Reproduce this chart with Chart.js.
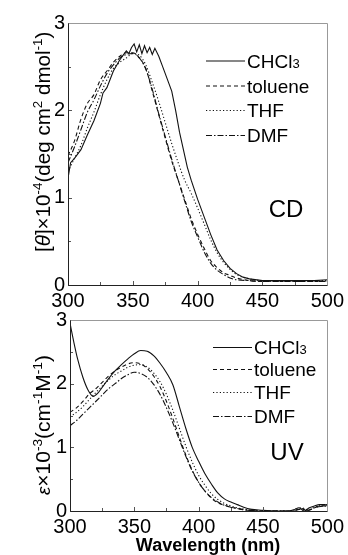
<!DOCTYPE html>
<html>
<head>
<meta charset="utf-8">
<script src="https://cdn.jsdelivr.net/npm/chart.js@4.4.0/dist/chart.umd.min.js"></script>
<style>
  html, body { margin: 0; padding: 0; background: #fff; }
  body { width: 348px; height: 555px; position: relative; overflow: hidden; }
  canvas { position: absolute; left: 0; }
  #cd { top: 0; }
  #uv { top: 305px; }
</style>
</head>
<body>
<canvas id="cd" width="348" height="312"></canvas>
<canvas id="uv" width="348" height="250"></canvas>
<script>
const FONT = "'Liberation Sans', Arial, sans-serif";

// CD panel ([theta] x 10^-4)
const cdChcl3Wl = [300,302,305,310,315,320,325,327,330,335,340,343,345,347,349,351,353,355,357,359,361,363,365,367,370,373,376,380,383,386,389,392,395,400,405,410,415,420,425,430,435,440,450,460,470,480,490,500];
const cdChcl3   = [1.22,1.40,1.45,1.55,1.72,1.88,2.08,2.20,2.26,2.45,2.58,2.64,2.68,2.65,2.72,2.76,2.67,2.75,2.65,2.74,2.66,2.72,2.64,2.71,2.62,2.50,2.38,2.22,2.00,1.75,1.55,1.35,1.20,0.98,0.78,0.58,0.40,0.28,0.19,0.13,0.09,0.07,0.05,0.05,0.05,0.05,0.05,0.06];
const cdWl      = [300,305,310,315,320,325,330,335,340,345,350,355,360,365,370,375,380,385,390,395,400,405,410,415,420,425,430,440,450,460,470,480,490,500];
const cdToluene = [1.48,1.65,1.90,2.08,2.18,2.35,2.45,2.55,2.62,2.66,2.66,2.60,2.48,2.22,1.95,1.68,1.42,1.20,0.98,0.76,0.58,0.42,0.28,0.20,0.14,0.11,0.08,0.05,0.04,0.04,0.04,0.04,0.04,0.04];
const cdThf     = [1.30,1.45,1.60,1.80,1.98,2.18,2.35,2.48,2.55,2.60,2.65,2.63,2.52,2.32,2.10,1.86,1.62,1.40,1.20,1.05,0.88,0.70,0.52,0.37,0.26,0.18,0.12,0.07,0.05,0.05,0.05,0.05,0.05,0.05];
const cdDmf     = [1.40,1.58,1.78,1.98,2.12,2.28,2.42,2.52,2.60,2.64,2.65,2.60,2.47,2.24,1.96,1.70,1.44,1.20,0.96,0.73,0.55,0.38,0.25,0.17,0.12,0.08,0.06,0.05,0.04,0.04,0.04,0.04,0.04,0.04];

// UV panel (epsilon x 10^-3)
const uvChcl3Wl = [300,303,306,310,314,318,322,326,330,335,340,345,350,355,360,365,370,375,380,385,390,395,400,405,410,415,420,425,430,435,440,445,450,460,470,474,478,482,486,490,494,498,500];
const uvChcl3   = [2.95,2.65,2.38,2.10,1.90,1.80,1.86,1.97,2.08,2.20,2.30,2.39,2.47,2.52,2.51,2.44,2.32,2.17,1.98,1.64,1.30,1.00,0.78,0.58,0.42,0.28,0.19,0.14,0.10,0.06,0.03,0.02,0.01,0.00,0.00,0.02,0.05,0.00,0.05,0.08,0.10,0.10,0.09];
const uvWl      = [300,305,310,315,320,325,330,335,340,345,350,355,360,365,370,375,380,385,390,395,400,405,410,415,420,425,430,435,440,450,460,470,475,480,485,490,495,500];
const uvToluene = [1.55,1.62,1.72,1.84,1.92,2.02,2.12,2.20,2.26,2.31,2.33,2.31,2.24,2.12,1.95,1.72,1.45,1.16,0.88,0.64,0.45,0.31,0.20,0.13,0.09,0.06,0.04,0.02,0.01,0.00,0.00,0.00,0.01,0.04,0.01,0.05,0.08,0.08];
const uvThf     = [1.48,1.55,1.64,1.75,1.86,1.96,2.06,2.14,2.20,2.26,2.29,2.30,2.26,2.17,2.03,1.83,1.58,1.30,1.02,0.77,0.56,0.40,0.27,0.18,0.12,0.08,0.05,0.03,0.01,0.00,0.00,0.00,0.02,0.05,0.02,0.06,0.09,0.10];
const uvDmf     = [1.34,1.42,1.52,1.62,1.72,1.82,1.92,2.00,2.08,2.14,2.18,2.16,2.10,1.99,1.83,1.62,1.38,1.12,0.86,0.63,0.45,0.31,0.21,0.14,0.09,0.06,0.04,0.02,0.01,0.00,0.00,0.00,0.01,0.03,0.01,0.05,0.07,0.08];

const solvents = ['CHCl3', 'toluene', 'THF', 'DMF'];
const dashes = [[], [4, 3], [1.2, 2.2], [6, 2, 1.5, 2]];

function pts(xs, ys) {
  return xs.map((x, i) => ({ x: x, y: ys[i] }));
}

function ds(i, xs, ys, smooth) {
  return {
    label: solvents[i],
    data: pts(xs, ys),
    borderColor: '#111',
    borderWidth: 1.1,
    borderDash: dashes[i],
    pointRadius: 0,
    fill: false,
    tension: 0,
    cubicInterpolationMode: smooth ? 'monotone' : 'default'
  };
}

// parts: [text, style, size, raise]; scaled so the whole title is `len` px long
function richText(ctx, parts, cx, cy, len) {
  const font = (p, k) => (p[1] + ' ' + (p[2] * k).toFixed(1) + 'px ' + FONT).trim();
  let w = 0;
  parts.forEach(p => { ctx.font = font(p, 1); w += ctx.measureText(p[0]).width; });
  const k = len / w;
  ctx.save();
  ctx.translate(cx, cy);
  ctx.rotate(-Math.PI / 2);
  ctx.textAlign = 'left';
  ctx.textBaseline = 'alphabetic';
  ctx.fillStyle = '#000';
  let xx = -len / 2;
  parts.forEach(p => {
    ctx.font = font(p, k);
    ctx.fillText(p[0], xx, -(p[3] || 0) * k);
    xx += ctx.measureText(p[0]).width;
  });
  ctx.restore();
}

function makeDecor(conf) {
  return {
    id: 'decor',
    afterDatasetsDraw(chart) {
      const ctx = chart.ctx, a = chart.chartArea;
      const xs = chart.scales.x, ys = chart.scales.y;
      ctx.save();
      // inward ticks
      ctx.strokeStyle = '#555';
      ctx.lineWidth = 1;
      ctx.beginPath();
      for (let v = xs.min; v <= xs.max; v += 25) {
        const px = Math.round(xs.getPixelForValue(v)) + 0.5;
        const len = v % 50 === 0 ? 4 : 3;
        ctx.moveTo(px, a.bottom); ctx.lineTo(px, a.bottom - len);
      }
      for (let v = ys.min; v <= ys.max; v += 0.5) {
        const py = Math.round(ys.getPixelForValue(v)) + 0.5;
        const len = v % 1 === 0 ? 4 : 3;
        ctx.moveTo(a.left, py); ctx.lineTo(a.left + len, py);
      }
      ctx.stroke();
      // frame
      const l = Math.round(a.left) + 0.5, r = Math.round(a.right) + 0.5;
      const t = Math.round(a.top) + 0.5, b = Math.round(a.bottom) + 0.5;
      ctx.strokeStyle = '#999';
      ctx.beginPath(); ctx.moveTo(l, t); ctx.lineTo(r, t); ctx.lineTo(r, b); ctx.stroke();
      ctx.strokeStyle = '#222';
      ctx.beginPath(); ctx.moveTo(l, t); ctx.lineTo(l, b); ctx.lineTo(r, b); ctx.stroke();

      // legend
      ctx.lineWidth = 1.1;
      ctx.strokeStyle = '#111';
      ctx.fillStyle = '#000';
      ctx.textAlign = 'left';
      ctx.textBaseline = 'alphabetic';
      conf.legendRows.forEach((yy, i) => {
        ctx.setLineDash(dashes[i]);
        ctx.beginPath();
        ctx.moveTo(conf.legendX1, yy + 0.5);
        ctx.lineTo(conf.legendX2, yy + 0.5);
        ctx.stroke();
        ctx.setLineDash([]);
        ctx.font = '19px ' + FONT;
        const base = yy + 7;
        if (i === 0) {
          ctx.fillText('CHCl', conf.legendTx, base);
          const w = ctx.measureText('CHCl').width;
          ctx.font = '13px ' + FONT;
          ctx.fillText('3', conf.legendTx + w, base);
        } else {
          ctx.fillText(solvents[i], conf.legendTx, base);
        }
      });

      // panel label
      ctx.font = '24px ' + FONT;
      ctx.textAlign = 'center';
      ctx.textBaseline = 'middle';
      ctx.fillText(conf.panel, conf.panelX, conf.panelY);

      // axis titles
      richText(ctx, conf.yTitle, conf.yTitleX, conf.yTitleY, conf.yTitleLen);
      if (conf.xTitle) {
        ctx.font = 'bold 18px ' + FONT;
        ctx.textAlign = 'center';
        ctx.textBaseline = 'alphabetic';
        ctx.fillText(conf.xTitle, conf.xTitleX, conf.xTitleY);
      }
      ctx.restore();
    }
  };
}

function makeChart(id, datasets, geom, conf) {
  return new Chart(document.getElementById(id), {
    type: 'line',
    data: { datasets: datasets },
    options: {
      responsive: false,
      animation: false,
      devicePixelRatio: 1,
      layout: { padding: { top: geom.top, right: geom.right, left: 0, bottom: 0 } },
      plugins: { legend: { display: false }, tooltip: { enabled: false } },
      scales: {
        x: {
          type: 'linear', min: 300, max: 500,
          grid: { display: false, drawTicks: false, tickLength: 0 },
          border: { display: false },
          ticks: { stepSize: 50, autoSkip: false, maxRotation: 0, padding: 4,
                   color: '#000', font: { family: FONT, size: 20 } },
          afterFit: s => { s.height = geom.xh; }
        },
        y: {
          type: 'linear', min: 0, max: 3,
          grid: { display: false, drawTicks: false, tickLength: 0 },
          border: { display: false },
          ticks: { stepSize: 1, padding: 3, color: '#000', font: { family: FONT, size: 20 } },
          afterFit: s => { s.width = geom.yw; }
        }
      }
    },
    plugins: [makeDecor(conf)]
  });
}

makeChart('cd', [
  ds(0, cdChcl3Wl, cdChcl3, false),
  ds(1, cdWl, cdToluene, true),
  ds(2, cdWl, cdThf, true),
  ds(3, cdWl, cdDmf, true)
], { top: 23, right: 18, yw: 68, xh: 27 }, {
  legendRows: [60.5, 85.5, 110, 135], legendX1: 206, legendX2: 245, legendTx: 247,
  panel: 'CD', panelX: 286, panelY: 210,
  yTitle: [['[', '', 20], ['θ', 'italic', 20], [']×10', '', 20], ['-4', '', 13, 8], ['(deg cm', '', 20],
           ['2', '', 13, 8], [' dmol', '', 20], ['-1', '', 13, 8], [')', '', 20]],
  yTitleX: 50, yTitleY: 142, yTitleLen: 220
});

makeChart('uv', [
  ds(0, uvChcl3Wl, uvChcl3, true),
  ds(1, uvWl, uvToluene, true),
  ds(2, uvWl, uvThf, true),
  ds(3, uvWl, uvDmf, true)
], { top: 14, right: 18, yw: 70, xh: 44 }, {
  legendRows: [42, 64, 87, 111], legendX1: 213, legendX2: 252, legendTx: 254,
  panel: 'UV', panelX: 287, panelY: 148,
  yTitle: [['ε', 'italic', 18], ['×10', '', 20], ['-3', '', 13, 8], ['(cm', '', 20], ['-1', '', 13, 8],
           ['M', '', 20], ['-1', '', 13, 8], [')', '', 20]],
  yTitleX: 50, yTitleY: 120, yTitleLen: 140,
  xTitle: 'Wavelength (nm)', xTitleX: 208, xTitleY: 246
});
</script>
</body>
</html>
